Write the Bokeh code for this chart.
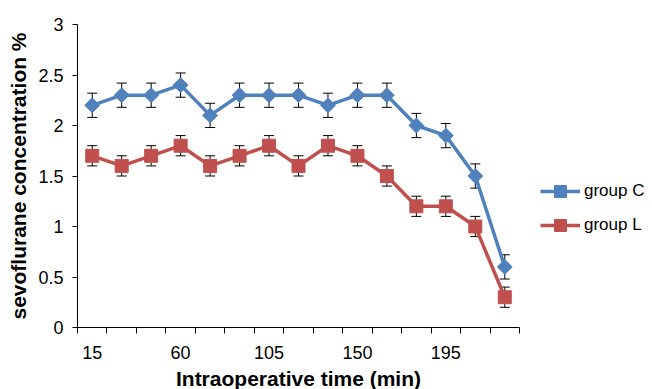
import math
from bokeh.plotting import figure
from bokeh.models import (ColumnDataSource, Whisker, TeeHead, FixedTicker, Range1d,
                          CustomJSTickFormatter, Legend, LegendItem)
from bokeh.embed import file_html
from bokeh.resources import INLINE

# ---- data ----
minutes = [15, 30, 45, 60, 75, 90, 105, 120, 135, 150, 165, 180, 195, 210, 225]
group_c = [2.2, 2.3, 2.3, 2.4, 2.1, 2.3, 2.3, 2.3, 2.2, 2.3, 2.3, 2.0, 1.9, 1.5, 0.6]
group_l = [1.7, 1.6, 1.7, 1.8, 1.6, 1.7, 1.8, 1.6, 1.8, 1.7, 1.5, 1.2, 1.2, 1.0, 0.3]
err_c = [0.12] * 15
err_l = [0.10] * 15
x_tick_labels = [15, 60, 105, 150, 195]
y_ticks = [0, 0.5, 1, 1.5, 2, 2.5, 3]

BLUE = "#4F81BD"
RED = "#C0504D"
FONT = "Liberation Sans"

src_c = ColumnDataSource(dict(x=minutes, y=group_c,
                              lo=[v - e for v, e in zip(group_c, err_c)],
                              hi=[v + e for v, e in zip(group_c, err_c)]))
src_l = ColumnDataSource(dict(x=minutes, y=group_l,
                              lo=[v - e for v, e in zip(group_l, err_l)],
                              hi=[v + e for v, e in zip(group_l, err_l)]))

step = minutes[1] - minutes[0]
p = figure(frame_width=442, frame_height=303,
           x_range=Range1d(minutes[0] - step / 2, minutes[-1] + step / 2),
           y_range=Range1d(0, 3),
           output_backend="svg", toolbar_location=None,
           min_border_left=77, min_border_right=112, min_border_top=24, min_border_bottom=56)
p.outline_line_color = None
p.xgrid.visible = False
p.ygrid.visible = False

# error bars (behind markers)
for src in (src_c, src_l):
    w = Whisker(base="x", lower="lo", upper="hi", source=src, line_color="black", line_width=1,
                upper_head=TeeHead(size=10, line_color="black", line_width=1),
                lower_head=TeeHead(size=10, line_color="black", line_width=1),
                level="underlay")
    p.add_layout(w)

lc = p.line("x", "y", source=src_c, line_color=BLUE, line_width=3.5)
mc = p.scatter("x", "y", source=src_c, marker="square", angle=math.pi / 4, size=10.5,
               fill_color=BLUE, line_color=BLUE)
ll = p.line("x", "y", source=src_l, line_color=RED, line_width=3.5)
ml = p.scatter("x", "y", source=src_l, marker="square", size=13,
               fill_color=RED, line_color=RED)

# x axis
xa = p.xaxis[0]
minor = [minutes[0] - step / 2 + step * k for k in range(len(minutes) + 1)]
xa.ticker = FixedTicker(ticks=x_tick_labels, minor_ticks=minor)
xa.major_tick_out = 0
xa.major_tick_in = 0
xa.minor_tick_out = 6
xa.minor_tick_in = 0
xa.minor_tick_line_color = "black"
xa.axis_line_color = "black"
xa.major_label_standoff = 12
xa.major_label_text_font = FONT
xa.major_label_text_font_size = "18px"
xa.major_label_text_color = "black"
xa.axis_label = "Intraoperative time (min)"
xa.axis_label_text_font = FONT
xa.axis_label_text_font_size = "21px"
xa.axis_label_text_font_style = "bold"
xa.axis_label_text_color = "black"
xa.axis_label_standoff = 5

# y axis
ya = p.yaxis[0]
ya.ticker = FixedTicker(ticks=y_ticks, minor_ticks=[])
ya.formatter = CustomJSTickFormatter(code="return tick.toString();")
ya.major_tick_out = 5
ya.major_tick_in = 0
ya.major_tick_line_color = "black"
ya.axis_line_color = "black"
ya.major_label_standoff = 9
ya.major_label_text_font = FONT
ya.major_label_text_font_size = "18px"
ya.major_label_text_color = "black"
ya.axis_label = "sevoflurane concentration %"
ya.axis_label_text_font = FONT
ya.axis_label_text_font_size = "21px"
ya.axis_label_text_font_style = "bold"
ya.axis_label_text_color = "black"
ya.axis_label_standoff = 5

legend = Legend(items=[LegendItem(label="group C", renderers=[lc, mc]),
                       LegendItem(label="group L", renderers=[ll, ml])],
                location=(21, 87), padding=0, margin=0, spacing=4,
                glyph_width=40, glyph_height=30, label_height=30, label_standoff=4,
                label_text_font=FONT, label_text_font_size="17px", label_text_color="black",
                border_line_alpha=0, background_fill_alpha=0)
p.add_layout(legend, "right")

open("out.html", "w").write(file_html(p, INLINE))
